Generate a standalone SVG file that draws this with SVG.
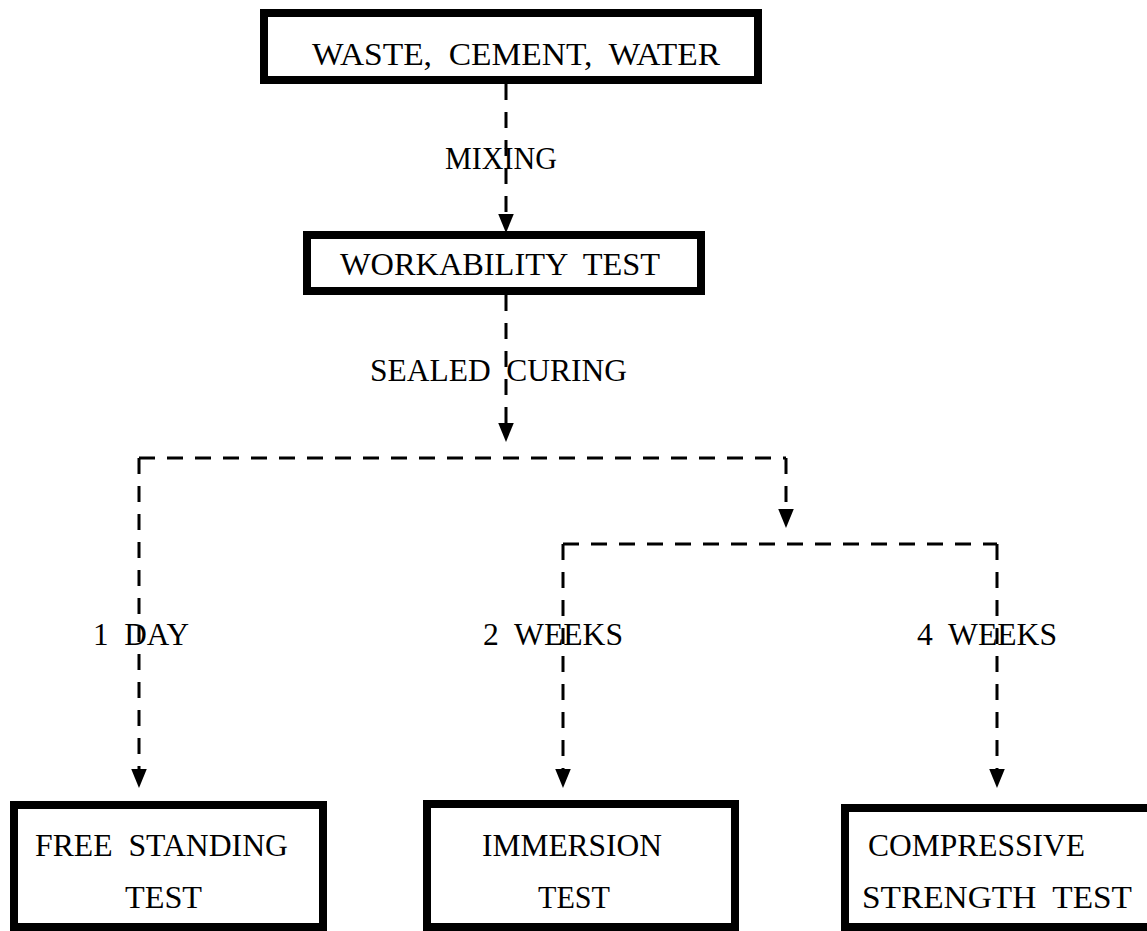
<svg xmlns="http://www.w3.org/2000/svg" width="1147" height="931" viewBox="0 0 1147 931">
<style>
.box{fill:#fff;stroke:#000;stroke-width:8}
.t{font-family:"Liberation Serif","Times New Roman",serif;font-size:32px;fill:#000;white-space:pre}
.c{fill:none;stroke:#000;stroke-width:3;stroke-dasharray:16 12}
</style>
<defs>
<marker id="ah" markerUnits="userSpaceOnUse" markerWidth="20" markerHeight="16" refX="0" refY="7" orient="auto" viewBox="0 0 18 14">
<path d="M0,0 L17,7 L0,14 z" fill="#000"/>
</marker>
</defs>
<rect width="1147" height="931" fill="#fff"/>
<g id="connectors">
<path class="c" d="M506 84 V214" marker-end="url(#ah)"/>
<path class="c" d="M506 295 V423" marker-end="url(#ah)"/>
<path class="c" d="M139 458 H786"/>
<path class="c" d="M139 458 V769" marker-end="url(#ah)"/>
<path class="c" d="M786 458 V509" marker-end="url(#ah)"/>
<path class="c" d="M563 544 H997"/>
<path class="c" d="M563 544 V769" marker-end="url(#ah)"/>
<path class="c" d="M997 544 V769" marker-end="url(#ah)"/>
<text class="t" x="445" y="169" textLength="112" lengthAdjust="spacingAndGlyphs">MIXING</text>
<text class="t" x="370" y="381" textLength="257" lengthAdjust="spacingAndGlyphs" xml:space="preserve">SEALED  CURING</text>
<text class="t" x="93" y="645" textLength="96" lengthAdjust="spacingAndGlyphs" xml:space="preserve">1  DAY</text>
<text class="t" x="483" y="645" textLength="140" lengthAdjust="spacingAndGlyphs" xml:space="preserve">2  WEEKS</text>
<text class="t" x="917" y="645" textLength="140" lengthAdjust="spacingAndGlyphs" xml:space="preserve">4  WEEKS</text>
</g>
<g id="node-inputs">
<rect class="box" x="264" y="13" width="494" height="67"/>
<text class="t" x="312" y="65" textLength="408" lengthAdjust="spacingAndGlyphs" xml:space="preserve">WASTE,  CEMENT,  WATER</text>
</g>
<g id="node-workability">
<rect class="box" x="307" y="235" width="394" height="56"/>
<text class="t" x="340" y="275" textLength="320" lengthAdjust="spacingAndGlyphs" xml:space="preserve">WORKABILITY  TEST</text>
</g>
<g id="node-free-standing">
<rect class="box" x="14" y="805" width="309" height="122"/>
<text class="t" x="35" y="856" textLength="253" lengthAdjust="spacingAndGlyphs" xml:space="preserve">FREE  STANDING</text>
<text class="t" x="125" y="908" textLength="77" lengthAdjust="spacingAndGlyphs">TEST</text>
</g>
<g id="node-immersion">
<rect class="box" x="427" y="804" width="308" height="123"/>
<text class="t" x="482" y="856" textLength="180" lengthAdjust="spacingAndGlyphs">IMMERSION</text>
<text class="t" x="538" y="908" textLength="72" lengthAdjust="spacingAndGlyphs">TEST</text>
</g>
<g id="node-compressive">
<rect class="box" x="845" y="808" width="310" height="119"/>
<text class="t" x="868" y="856" textLength="217" lengthAdjust="spacingAndGlyphs">COMPRESSIVE</text>
<text class="t" x="862" y="908" textLength="270" lengthAdjust="spacingAndGlyphs" xml:space="preserve">STRENGTH  TEST</text>
</g>
</svg>
